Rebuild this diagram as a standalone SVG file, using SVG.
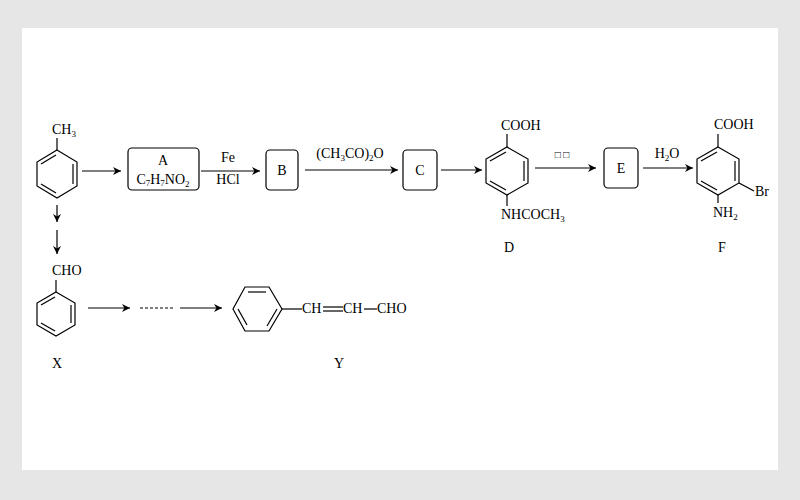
<svg xmlns="http://www.w3.org/2000/svg" width="800" height="500" viewBox="0 0 800 500">
<defs>
<marker id="ah" viewBox="0 0 10 10" refX="10" refY="5" markerWidth="11" markerHeight="8" markerUnits="userSpaceOnUse" orient="auto"><path class="head" d="M0,0 L10,5 L0,10 L3,5 Z"/></marker>
<style>
line,polyline,polygon,path{stroke:#000;stroke-width:1.2;fill:none}
path.head{fill:#000;stroke:none}
.box{fill:#fff;stroke:#000;stroke-width:1.2}
text{font-family:"Liberation Serif","DejaVu Serif",serif;font-size:14px;fill:#000}
.m{text-anchor:middle}
.s{font-size:9px}
.arr{marker-end:url(#ah)}
</style>
</defs>
<rect width="800" height="500" fill="#e6e6e6"/>
<rect x="22" y="28" width="756" height="442" fill="#fff"/>
<g id="toluene">
<polygon points="57,150 77,162 77,186 57,198 37,186 37,162"/>
<line x1="56" y1="155" x2="41" y2="164"/><line x1="73" y1="164" x2="73" y2="184"/><line x1="41" y1="184" x2="56" y2="193"/>
<line x1="57" y1="150" x2="57" y2="138"/>
<text x="52" y="134">CH<tspan class="s" dy="3">3</tspan></text>
</g>
<g id="A"><rect class="box" x="128" y="148" width="71" height="42" rx="4"/>
<text class="m" x="163" y="165">A</text><text class="m" x="163" y="184">C<tspan class="s" dy="2">7</tspan><tspan dy="-2">H</tspan><tspan class="s" dy="2">7</tspan><tspan dy="-2">NO</tspan><tspan class="s" dy="3">2</tspan></text></g>
<g id="B"><rect class="box" x="266" y="150" width="32" height="40" rx="4"/><text class="m" x="282" y="175">B</text></g>
<g id="C"><rect class="box" x="403" y="150" width="34" height="40" rx="4"/><text class="m" x="420" y="175">C</text></g>
<g id="D">
<polygon points="507,147 528,159 528,183 507,195 486,183 486,159"/>
<line x1="506" y1="152" x2="490" y2="161"/><line x1="524" y1="161" x2="524" y2="181"/><line x1="490" y1="181" x2="506" y2="190"/>
<line x1="507" y1="147" x2="507" y2="134"/><line x1="507" y1="195" x2="507" y2="206"/>
<text x="501" y="130">COOH</text><text x="501" y="219">NHCOCH<tspan class="s" dy="3">3</tspan></text>
<text class="m" x="509" y="252">D</text></g>
<g id="E"><rect class="box" x="604" y="148" width="34" height="40" rx="4"/><text class="m" x="621" y="173">E</text></g>
<g id="F">
<polygon points="718,147 739,159 739,183 718,195 697,183 697,159"/>
<line x1="717" y1="152" x2="701" y2="161"/><line x1="735" y1="161" x2="735" y2="181"/><line x1="701" y1="181" x2="717" y2="190"/>
<line x1="718" y1="147" x2="718" y2="134"/><line x1="739" y1="183" x2="754" y2="191"/><line x1="718" y1="195" x2="718" y2="203"/>
<text x="714" y="129">COOH</text><text x="755" y="196">Br</text><text x="713" y="217">NH<tspan class="s" dy="3">2</tspan></text>
<text class="m" x="722" y="252">F</text></g>
<g id="X">
<polygon points="56,292 75,303 75,325 56,336 37,325 37,303"/>
<line x1="55" y1="297" x2="41" y2="305"/><line x1="71" y1="305" x2="71" y2="323"/><line x1="41" y1="323" x2="55" y2="331"/>
<line x1="56" y1="292" x2="56" y2="280"/>
<text x="52" y="275">CHO</text><text class="m" x="57" y="368">X</text></g>
<g id="Y">
<polygon points="245,287 269,287 282,309 269,331 245,331 233,309"/>
<line x1="248" y1="292" x2="266" y2="292"/><line x1="277" y1="309" x2="267" y2="326"/><line x1="238" y1="309" x2="247" y2="325"/>
<line x1="282" y1="309" x2="302" y2="309"/>
<text x="302" y="313">CH</text><line x1="323" y1="307" x2="343" y2="307"/><line x1="323" y1="311" x2="343" y2="311"/>
<text x="343" y="313">CH</text><line x1="364" y1="309" x2="377" y2="309"/><text x="377" y="313">CHO</text>
<text class="m" x="339" y="368">Y</text></g>
<g id="connectors">
<line class="arr" x1="82" y1="171" x2="121" y2="171"/>
<line class="arr" x1="201" y1="171" x2="260" y2="171"/>
<text class="m" x="228" y="162">Fe</text><text class="m" x="228" y="184">HCl</text>
<line class="arr" x1="305" y1="170" x2="398" y2="170"/>
<text class="m" x="350" y="158">(CH<tspan class="s" dy="3">3</tspan><tspan dy="-3">CO)</tspan><tspan class="s" dy="3">2</tspan><tspan dy="-3">O</tspan></text>
<line class="arr" x1="441" y1="170" x2="482" y2="170"/>
<line class="arr" x1="535" y1="168" x2="596" y2="168"/>
<text class="m" x="562" y="158" style="font-size:10px">□ □</text>
<line class="arr" x1="643" y1="168" x2="693" y2="168"/>
<text class="m" x="667" y="158">H<tspan class="s" dy="3">2</tspan><tspan dy="-3">O</tspan></text>
<line class="arr" x1="57" y1="205" x2="57" y2="222"/>
<line class="arr" x1="57" y1="230" x2="57" y2="254"/>
<line class="arr" x1="88" y1="308" x2="130" y2="308"/>
<line x1="140" y1="308" x2="174" y2="308" stroke-dasharray="3,2"/>
<line class="arr" x1="180" y1="308" x2="222" y2="308"/>
</g>
</svg>
